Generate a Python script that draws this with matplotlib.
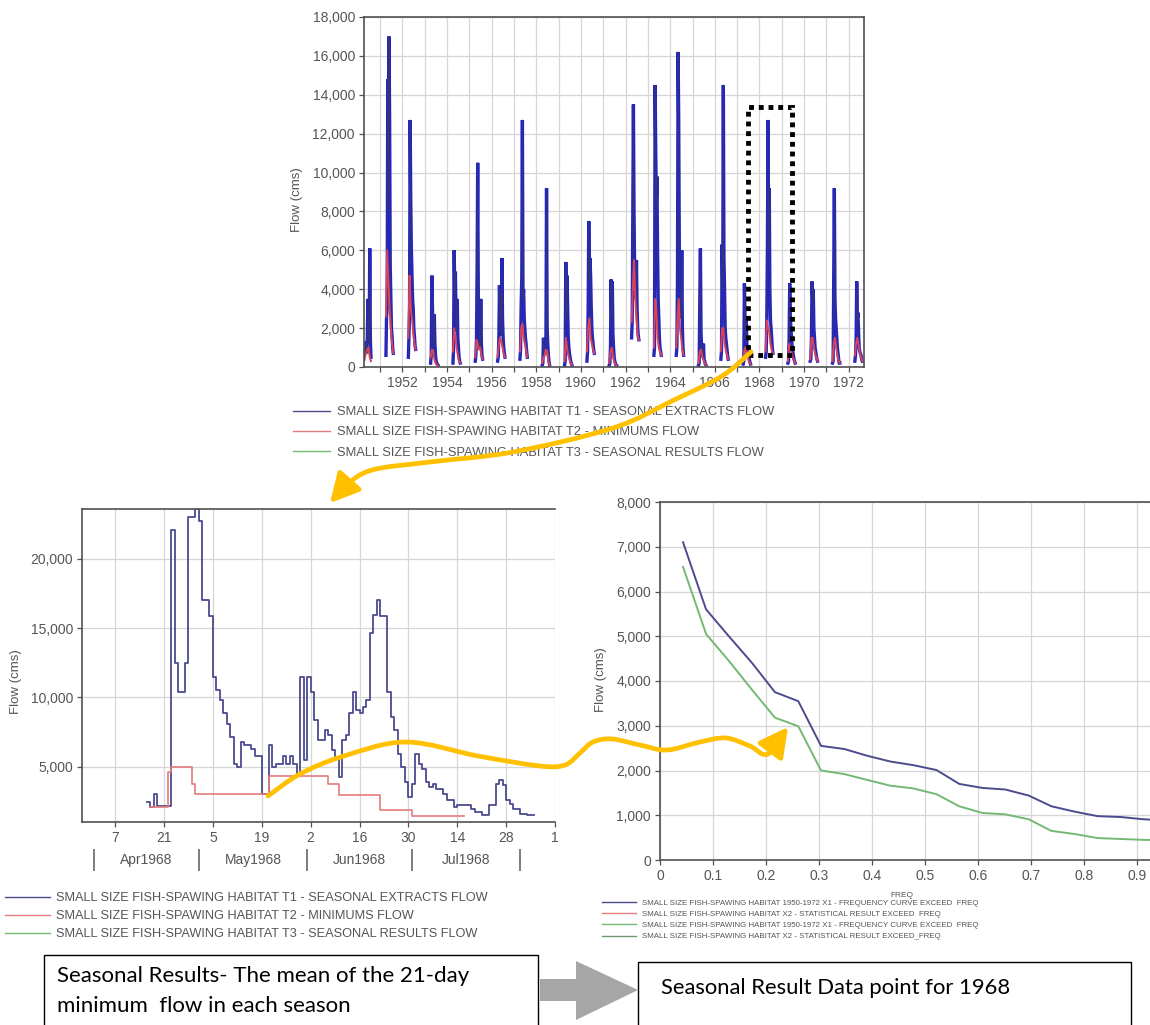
import datetime as dt
import numpy as np
import matplotlib
matplotlib.use("Agg")
import matplotlib.pyplot as plt
import matplotlib.dates as mdates
from matplotlib.lines import Line2D
from matplotlib.patches import Rectangle, Polygon, FancyArrowPatch
from matplotlib.path import Path
from matplotlib.transforms import blended_transform_factory

plt.rcParams['font.family'] = ['Liberation Sans', 'DejaVu Sans']

# ------------------------------------------------------------------ data
legend_main = ["SMALL SIZE FISH-SPAWING HABITAT T1 - SEASONAL EXTRACTS FLOW",
               "SMALL SIZE FISH-SPAWING HABITAT T2 - MINIMUMS FLOW",
               "SMALL SIZE FISH-SPAWING HABITAT T3 - SEASONAL RESULTS FLOW"]
legend_freq = ["SMALL SIZE FISH-SPAWING HABITAT 1950-1972 X1 - FREQUENCY CURVE EXCEED  FREQ",
               "SMALL SIZE FISH-SPAWING HABITAT X2 - STATISTICAL RESULT EXCEED  FREQ",
               "SMALL SIZE FISH-SPAWING HABITAT 1950-1972 X1 - FREQUENCY CURVE EXCEED  FREQ",
               "SMALL SIZE FISH-SPAWING HABITAT X2 - STATISTICAL RESULT EXCEED_FREQ"]

# --- top panel: seasonal extracts 1950-1972 (values every 10 days from 10 Apr)
season_years = list(range(1950, 1973))
t1_by_season = [
    [400, 900, 1300, 800, 1100, 700, 1500, 3500, 1800, 1200, 6100, 1400, 500],
    [600, 2600, 3000, 14800, 8000, 17000, 12700, 5200, 3500, 2000, 1600, 1000, 700],
    [500, 1500, 3000, 12700, 8500, 6000, 4700, 3500, 3000, 2000, 1600, 1100, 900],
    [200, 600, 4700, 3100, 1400, 900, 2700, 1200, 600, 300, 200, 150, 100],
    [200, 900, 6000, 3800, 4900, 2500, 1800, 3500, 1500, 1000, 500, 300, 200],
    [300, 600, 1400, 5000, 10500, 3500, 2500, 1500, 1000, 3500, 1200, 600, 400],
    [300, 500, 1500, 4200, 2500, 3800, 1600, 5600, 2500, 1500, 1000, 700, 500],
    [400, 900, 3200, 4600, 12700, 3500, 4000, 2500, 2000, 1500, 1200, 800, 500],
    [100, 200, 1500, 600, 900, 700, 1200, 9200, 2000, 1200, 600, 300, 100],
    [100, 300, 5400, 2500, 4700, 3100, 1500, 1000, 700, 500, 300, 200, 100],
    [300, 800, 3000, 7500, 4500, 5600, 4700, 3100, 2000, 1500, 1200, 900, 700],
    [100, 200, 1000, 4500, 2500, 4400, 1700, 1000, 500, 300, 200, 100, 80],
    [1500, 2300, 7800, 13500, 8000, 5000, 4000, 3500, 5500, 3000, 2000, 1600, 1400],
    [600, 1000, 14500, 11200, 8500, 9800, 6000, 3500, 2500, 1500, 1000, 800, 600],
    [600, 1000, 4500, 16200, 12700, 6000, 4000, 3000, 2500, 6000, 2000, 1000, 600],
    [100, 200, 3500, 6100, 1800, 1000, 700, 500, 1200, 400, 300, 150, 100],
    [400, 800, 6300, 4000, 14500, 5600, 4000, 2000, 1500, 1200, 900, 600, 400],
    [150, 300, 4300, 2300, 1500, 2600, 1200, 900, 700, 500, 400, 250, 150],
    [500, 800, 2500, 6100, 12700, 6100, 9200, 4000, 2400, 2000, 1500, 1000, 700],
    [200, 300, 1500, 4300, 2500, 2000, 1500, 1000, 800, 600, 400, 300, 200],
    [300, 400, 1500, 4400, 3500, 4000, 2000, 1500, 1000, 800, 600, 400, 300],
    [200, 300, 4400, 9200, 3500, 2500, 2000, 1500, 1000, 700, 400, 200, 200],
    [300, 600, 1500, 4400, 2500, 2800, 1800, 1000, 800, 700, 600, 400, 300],
]
# minimums (values every 20 days from 10 Apr)
t2_by_season = [
    [300, 500, 700, 900, 1000, 500, 300],
    [2600, 6000, 4500, 3000, 2000, 1200, 700],
    [1500, 4700, 3000, 2500, 1800, 1200, 900],
    [500, 900, 800, 400, 200, 100, 80],
    [800, 2000, 1500, 1000, 600, 300, 200],
    [500, 1400, 1200, 900, 1000, 600, 400],
    [500, 1200, 1500, 1300, 1000, 700, 500],
    [800, 2000, 2200, 1500, 1200, 900, 500],
    [200, 500, 600, 900, 800, 300, 100],
    [300, 1500, 1000, 600, 400, 200, 100],
    [800, 2000, 2500, 1500, 1200, 900, 700],
    [200, 800, 1000, 600, 300, 150, 80],
    [2300, 4000, 5500, 3500, 2500, 1600, 1400],
    [1000, 3500, 3000, 1500, 1000, 800, 600],
    [1000, 2500, 3500, 2000, 1500, 900, 600],
    [200, 800, 900, 500, 400, 200, 100],
    [800, 2000, 2000, 1200, 900, 600, 400],
    [300, 900, 1000, 700, 400, 250, 150],
    [800, 2400, 2000, 1800, 1200, 900, 700],
    [300, 1200, 1000, 700, 500, 350, 200],
    [400, 1500, 1500, 1000, 700, 500, 300],
    [300, 1200, 1500, 1000, 600, 300, 200],
    [600, 1200, 1500, 1100, 800, 500, 300],
]
T1_STEP_DAYS = 10
T2_STEP_DAYS = 20

# --- bottom-left panel: season 1968 (daily, step changes)
bl_t1_dates = ["1968-04-16", "1968-04-17", "1968-04-18", "1968-04-19", "1968-04-23",
               "1968-04-24", "1968-04-25", "1968-04-27", "1968-04-28", "1968-04-30",
               "1968-05-01", "1968-05-02", "1968-05-04", "1968-05-05", "1968-05-06",
               "1968-05-07", "1968-05-08", "1968-05-09", "1968-05-10", "1968-05-11",
               "1968-05-12", "1968-05-13", "1968-05-14", "1968-05-16", "1968-05-17",
               "1968-05-19", "1968-05-21", "1968-05-22", "1968-05-23", "1968-05-25",
               "1968-05-26", "1968-05-27", "1968-05-28", "1968-05-29", "1968-05-30",
               "1968-05-31", "1968-06-01", "1968-06-02", "1968-06-03", "1968-06-04",
               "1968-06-06", "1968-06-07", "1968-06-08", "1968-06-09", "1968-06-10",
               "1968-06-11", "1968-06-12", "1968-06-13", "1968-06-14", "1968-06-15",
               "1968-06-16", "1968-06-17", "1968-06-18", "1968-06-19", "1968-06-20",
               "1968-06-21", "1968-06-22", "1968-06-24", "1968-06-25", "1968-06-26",
               "1968-06-27", "1968-06-28", "1968-06-29", "1968-06-30", "1968-07-01",
               "1968-07-02", "1968-07-03", "1968-07-04", "1968-07-05", "1968-07-06",
               "1968-07-07", "1968-07-08", "1968-07-10", "1968-07-11", "1968-07-13",
               "1968-07-14", "1968-07-18", "1968-07-19", "1968-07-21", "1968-07-23",
               "1968-07-25", "1968-07-26", "1968-07-27", "1968-07-28", "1968-07-29",
               "1968-07-30", "1968-08-01", "1968-08-03", "1968-08-05"]
bl_t1_flow = [2450, 2100, 3000, 2150, 22100,
              12450, 10400, 12450, 23000, 23600,
              22700, 17050, 15850, 11500, 10500,
              9800, 8840, 8100, 7150, 5220,
              5000, 6800, 6550, 6300, 5800,
              3050, 6550, 5000, 5220, 5800,
              5220, 5800, 5220, 4500, 11500,
              5460, 11500, 10400, 8350, 6900,
              7640, 7300, 6180, 5700, 4250,
              6900, 7300, 8840, 10400, 9080,
              8840, 9300, 9800, 14640, 15970,
              17050, 15850, 10400, 8600, 7640,
              5940, 5000, 3900, 2800, 3770,
              5940, 5220, 4800, 3890, 3530,
              3770, 3400, 3050, 2560, 2080,
              2200, 1960, 1720, 1480, 2200,
              3770, 4000, 3650, 2560, 2320,
              1960, 1600, 1480, 1480]
bl_t2_dates = ["1968-04-17", "1968-04-22", "1968-04-23", "1968-04-29", "1968-04-30",
               "1968-05-21", "1968-06-07", "1968-06-10", "1968-06-22", "1968-07-01",
               "1968-07-16"]
bl_t2_flow = [2100, 4600, 5000, 3770, 3000, 4300, 3770, 2930, 1840, 1400, 1400]
bl_day_ticks = ["1968-04-07", "1968-04-21", "1968-05-05", "1968-05-19", "1968-06-02",
                "1968-06-16", "1968-06-30", "1968-07-14", "1968-07-28", "1968-08-11"]
bl_day_labels = ["7", "21", "5", "19", "2", "16", "30", "14", "28", "1"]
bl_months = ["1968-04-01", "1968-05-01", "1968-06-01", "1968-07-01", "1968-08-01"]
bl_month_labels = ["Apr1968", "May1968", "Jun1968", "Jul1968"]

# --- bottom-right panel: exceedance frequency curves
freq = [0.0435, 0.087, 0.130, 0.174, 0.217, 0.261, 0.304, 0.348, 0.391, 0.435, 0.478,
        0.522, 0.565, 0.609, 0.652, 0.696, 0.739, 0.783, 0.826, 0.870, 0.913, 0.957]
freq_curve = [7100, 5600, 5000, 4400, 3750, 3550, 2550, 2480, 2330, 2200, 2120,
              2010, 1700, 1610, 1575, 1440, 1200, 1080, 980, 960, 910, 880]
freq_result = [6550, 5050, 4450, 3800, 3180, 2990, 2000, 1920, 1790, 1660, 1600,
               1470, 1200, 1050, 1020, 910, 650, 580, 490, 470, 450, 440]

# ------------------------------------------------------------------ layout helpers
W, H = 1150, 1025
fig = plt.figure(figsize=(W / 100, H / 100), dpi=100)
fig.patch.set_facecolor('white')


def rect(l, t, r, b):
    return [l / W, 1 - b / H, (r - l) / W, (b - t) / H]


def px(x, y):
    return (x / 100, (H - y) / 100)


GRID = '#d6d6d6'
SPINE = '#505050'
TXT = '#555555'
NAVY = '#4b4b8e'
BLUE = '#2222cc'
RED = '#d9435a'
LRED = '#e47c7c'
GREEN = '#74b874'
GOLD = '#FFC000'


def style_axes(ax, labelsize=10):
    ax.set_axisbelow(True)
    ax.grid(True, color=GRID, lw=0.9)
    for s in ax.spines.values():
        s.set_color(SPINE)
        s.set_linewidth(1.2)
    ax.tick_params(direction='out', length=3.5, width=0.9, color=SPINE,
                   labelsize=labelsize, labelcolor=TXT, pad=3)


def fmt_thousands(v, _pos=None):
    return f"{int(round(v)):,}"


# ------------------------------------------------------------------ top panel
ax1 = fig.add_axes(rect(364, 17, 864, 367))
style_axes(ax1)
x1, y1 = [], []
for yr, vals in zip(season_years, t1_by_season):
    start = mdates.date2num(dt.date(yr, 4, 10))
    for i, v in enumerate(vals):
        x1.append(start + T1_STEP_DAYS * i)
        y1.append(v)
    x1.append(np.nan)
    y1.append(np.nan)
x2, y2 = [], []
for yr, vals in zip(season_years, t2_by_season):
    start = mdates.date2num(dt.date(yr, 4, 10))
    for i, v in enumerate(vals):
        x2.append(start + T2_STEP_DAYS * i)
        y2.append(v)
    x2.append(np.nan)
    y2.append(np.nan)
ax1.plot(x1, y1, color=BLUE, lw=2.4, solid_joinstyle='miter')
ax1.plot(x1, y1, color='#34347a', lw=0.7)
ax1.plot(x2, y2, color=RED, lw=1.4)
ax1.set_xlim(mdates.date2num(dt.date(1950, 4, 16)), mdates.date2num(dt.date(1972, 9, 6)))
ax1.set_ylim(0, 18000)
ax1.set_yticks(np.arange(0, 18001, 2000))
ax1.yaxis.set_major_formatter(plt.FuncFormatter(fmt_thousands))
yr_ticks = list(range(1951, 1973))
ax1.set_xticks([mdates.date2num(dt.date(y, 1, 1)) for y in yr_ticks])
ax1.set_xticklabels([str(y) if y % 2 == 0 else '' for y in yr_ticks])
ax1.set_ylabel("Flow (cms)", fontsize=9.5, color=TXT)
ax1.yaxis.set_label_coords(-0.122, 0.477)
ax1.legend(handles=[Line2D([], [], color=NAVY, lw=1),
                    Line2D([], [], color=LRED, lw=1),
                    Line2D([], [], color=GREEN, lw=1)],
           labels=legend_main, loc='upper left',
           bbox_to_anchor=(293 / W, 1 - 406 / H), bbox_transform=fig.transFigure,
           frameon=False, fontsize=9.3, labelcolor=TXT, handlelength=2.87,
           handletextpad=0.54, labelspacing=0.65, borderaxespad=0, borderpad=0)

# dotted highlight box around 1968
fig.add_artist(Rectangle(px(748, 355), 0.44, 2.48, transform=fig.dpi_scale_trans,
                         fill=False, ec='black', lw=3.5, ls=(0, (1, 1.0)),
                         capstyle='butt', joinstyle='miter', zorder=5))

# ------------------------------------------------------------------ bottom-left panel
ax2 = fig.add_axes(rect(82, 509, 555, 822))
style_axes(ax2)
ax2.spines['right'].set_visible(False)
bx = mdates.date2num([dt.date.fromisoformat(d) for d in bl_t1_dates])
rx = mdates.date2num([dt.date.fromisoformat(d) for d in bl_t2_dates])
ax2.step(bx, bl_t1_flow, where='post', color=NAVY, lw=1.3)
ax2.step(rx, bl_t2_flow, where='post', color=LRED, lw=1.2)
ax2.set_xlim(mdates.date2num(dt.datetime(1968, 3, 28, 12)),
             mdates.date2num(dt.datetime(1968, 8, 11)))
ax2.set_ylim(1000, 23600)
ax2.set_yticks([5000, 10000, 15000, 20000])
ax2.yaxis.set_major_formatter(plt.FuncFormatter(fmt_thousands))
ax2.set_xticks(mdates.date2num([dt.date.fromisoformat(d) for d in bl_day_ticks]))
ax2.set_xticklabels(bl_day_labels)
ax2.set_ylabel("Flow (cms)", fontsize=9.5, color=TXT)
ax2.yaxis.set_label_coords(-0.127, 0.447)
mnum = mdates.date2num([dt.date.fromisoformat(d) for d in bl_months])
sec = ax2.secondary_xaxis(-0.121)
sec.set_xticks(mnum)
sec.tick_params(direction='inout', length=16, width=1.2, color='#666666',
                labelbottom=False)
sec.spines['bottom'].set_visible(False)
btr = blended_transform_factory(ax2.transData, ax2.transAxes)
for a, b, lab in zip(mnum[:-1], mnum[1:], bl_month_labels):
    ax2.text((a + b) / 2, -0.121, lab, transform=btr, ha='center', va='center',
             fontsize=10, color=TXT)
ax2.legend(handles=[Line2D([], [], color=NAVY, lw=1),
                    Line2D([], [], color=LRED, lw=1),
                    Line2D([], [], color=GREEN, lw=1)],
           labels=legend_main, loc='upper left',
           bbox_to_anchor=(5 / W, 1 - 892 / H), bbox_transform=fig.transFigure,
           frameon=False, fontsize=9.2, labelcolor=TXT, handlelength=3.5,
           handletextpad=0.47, labelspacing=0.47, borderaxespad=0, borderpad=0)

# ------------------------------------------------------------------ bottom-right panel
ax3 = fig.add_axes(rect(660, 502, 1150, 860))
style_axes(ax3)
ax3.spines['right'].set_visible(False)
ax3.plot(freq, freq_curve, color=NAVY, lw=1.4)
ax3.plot(freq, freq_result, color=GREEN, lw=1.4)
ax3.set_xlim(0, 0.925)
ax3.set_ylim(0, 8000)
ax3.set_xticks(np.arange(0, 0.91, 0.1))
ax3.set_xticklabels(["0", "0.1", "0.2", "0.3", "0.4", "0.5", "0.6", "0.7", "0.8", "0.9"])
ax3.set_yticks(np.arange(0, 8001, 1000))
ax3.yaxis.set_major_formatter(plt.FuncFormatter(fmt_thousands))
ax3.set_ylabel("Flow (cms)", fontsize=9.5, color=TXT)
ax3.yaxis.set_label_coords(-0.108, 0.503)
ax3.set_xlabel("FREQ", fontsize=6, color=TXT)
ax3.xaxis.set_label_coords(0.494, -0.088)
ax3.legend(handles=[Line2D([], [], color=NAVY, lw=1),
                    Line2D([], [], color=LRED, lw=1),
                    Line2D([], [], color=GREEN, lw=1),
                    Line2D([], [], color='#6f9a6f', lw=1)],
           labels=legend_freq, loc='upper left',
           bbox_to_anchor=(602 / W, 1 - 899 / H), bbox_transform=fig.transFigure,
           frameon=False, fontsize=5.7, labelcolor=TXT, handlelength=4.3,
           handletextpad=0.75, labelspacing=0.47, borderaxespad=0, borderpad=0)

# ------------------------------------------------------------------ annotations
for (l, t, r) in [(44, 955, 538), (638, 962, 1131)]:
    fig.add_artist(Rectangle(px(l, 1035), (r - l) / 100, (1035 - t) / 100,
                             transform=fig.dpi_scale_trans, fc='white', ec='black',
                             lw=1.0, zorder=3))
BOXFONT = ['Lato', 'DejaVu Sans']
fig.text(57 / W, 1 - 976 / H, "Seasonal Results- The mean of the 21-day",
         family=BOXFONT, fontsize=16, va='center', ha='left', zorder=4)
fig.text(57 / W, 1 - 1006 / H, "minimum  flow in each season",
         family=BOXFONT, fontsize=16, va='center', ha='left', zorder=4)
fig.text(661 / W, 1 - 988 / H, "Seasonal Result Data point for 1968",
         family=BOXFONT, fontsize=15.8, va='center', ha='left', zorder=4)

gray_arrow = [(540, 979), (576, 979), (576, 961), (638, 990), (576, 1020),
              (576, 1001), (540, 1001)]
fig.add_artist(Polygon([px(x, y) for x, y in gray_arrow], closed=True,
                       transform=fig.dpi_scale_trans, fc='#a6a6a6', ec='none', zorder=4))


def smooth_path(pts):
    p = np.array(pts, float)
    n = len(p)
    verts = [p[0]]
    codes = [Path.MOVETO]
    for i in range(n - 1):
        p0 = p[i - 1] if i > 0 else p[i]
        p1, p2 = p[i], p[i + 1]
        p3 = p[i + 2] if i + 2 < n else p[i + 1]
        verts += [p1 + (p2 - p0) / 6, p2 - (p3 - p1) / 6, p2]
        codes += [Path.CURVE4] * 3
    return Path([px(x, y) for x, y in verts], codes)


curve1 = [(751, 352), (722, 376), (674, 400), (613, 428), (513, 452), (430, 462),
          (372, 470), (345, 486), (330, 503)]
curve2 = [(268, 796), (300, 774), (344, 756), (406, 742), (478, 756), (540, 766),
          (565, 765), (580, 753), (593, 742), (612, 739), (640, 745), (667, 750),
          (700, 742), (726, 738), (750, 746), (768, 754), (788, 727)]
for pts in (curve1, curve2):
    fig.add_artist(FancyArrowPatch(path=smooth_path(pts),
                                   arrowstyle='-|>,head_length=0.8,head_width=0.42',
                                   mutation_scale=22, color=GOLD, lw=3.4,
                                   transform=fig.dpi_scale_trans, zorder=6))

fig.savefig("out.png", dpi=100, facecolor='white')
